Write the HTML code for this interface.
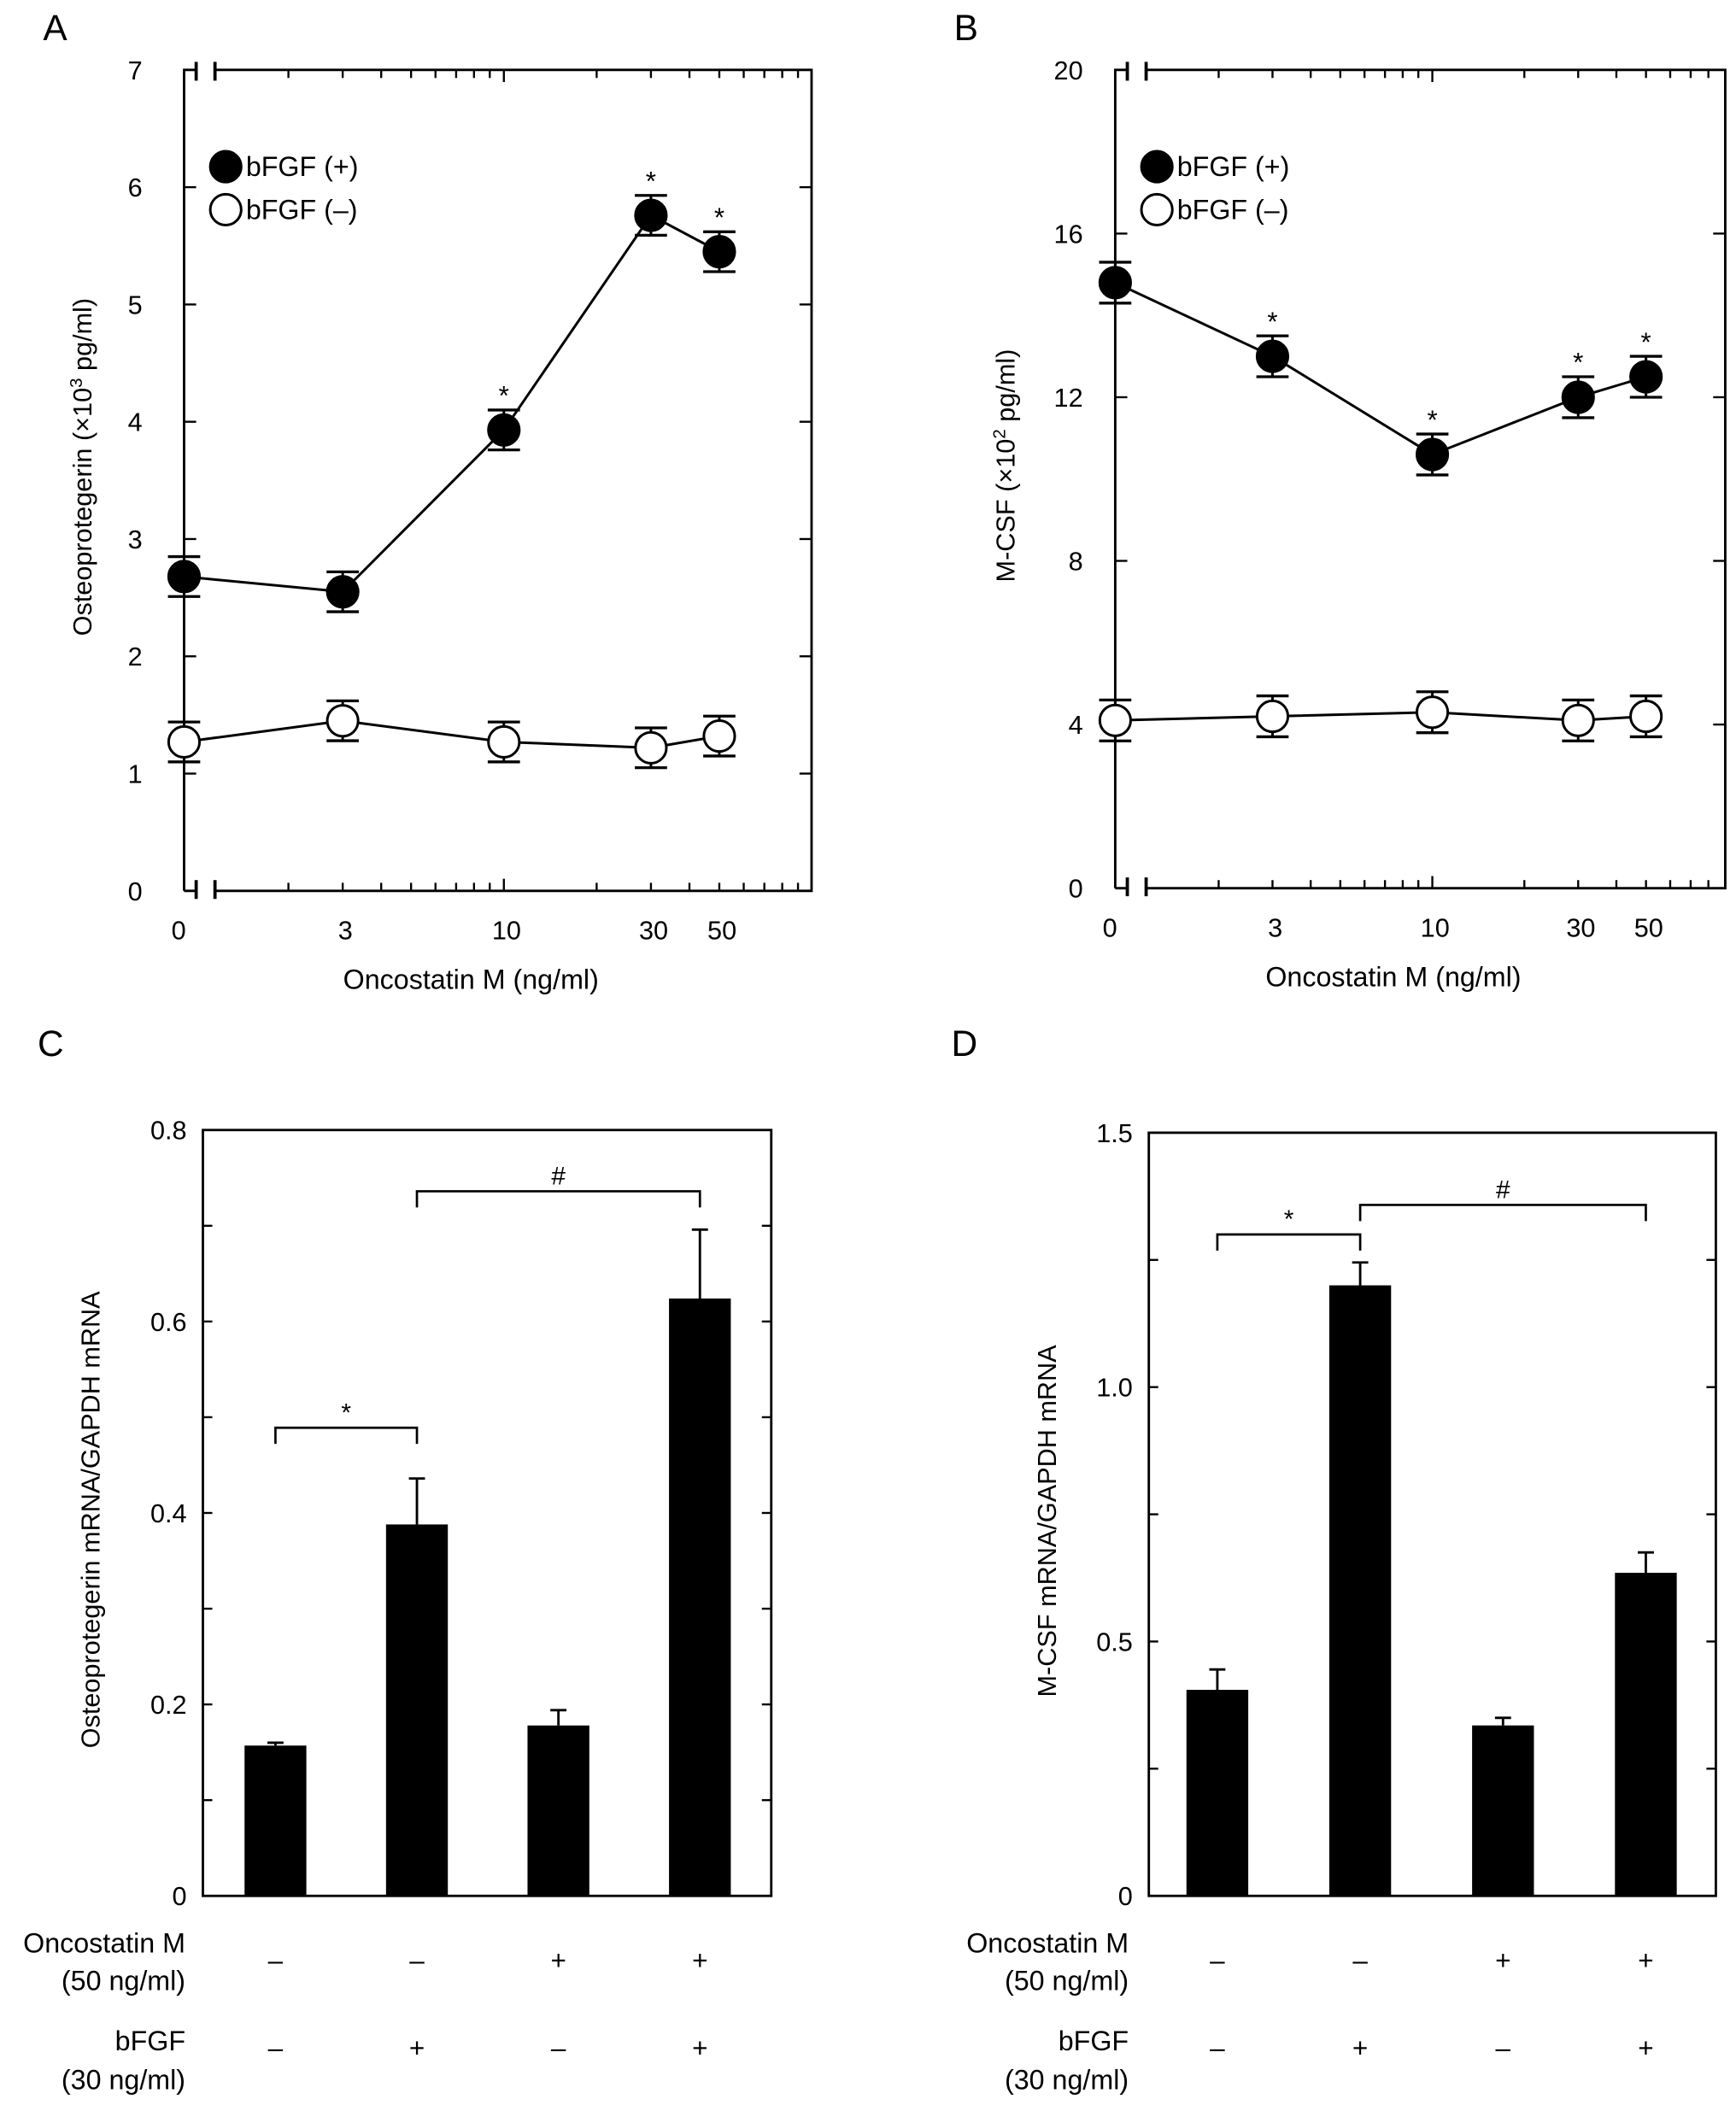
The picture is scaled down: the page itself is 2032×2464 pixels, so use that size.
<!DOCTYPE html>
<html><head><meta charset="utf-8"><style>
html,body{margin:0;padding:0;background:#fff}
svg{display:block}
text{font-family:"Liberation Sans",Arial,sans-serif;fill:#000}
</style></head><body>
<svg id="fig" xmlns="http://www.w3.org/2000/svg" width="2032" height="2464" viewBox="0 0 1292 1566.6">
<rect width="1292" height="1566.6" fill="#fff"/>
</svg>
<script>
// ---- Panel A data ----
const doseA = [0, 3, 10, 30, 50];
const opgPlus = [2.68, 2.55, 3.93, 5.76, 5.45];
const opgPlusErr = [0.17, 0.17, 0.17, 0.17, 0.17];
const opgMinus = [1.27, 1.45, 1.27, 1.22, 1.32];
const opgMinusErr = [0.17, 0.17, 0.17, 0.17, 0.17];
const starsA = [false, false, true, true, true];
const yTicksA = [0, 1, 2, 3, 4, 5, 6, 7];
// ---- Panel B data ----
const doseB = [0, 3, 10, 30, 50];
const mcsfPlus = [14.8, 13.0, 10.6, 12.0, 12.5];
const mcsfPlusErr = [0.5, 0.5, 0.5, 0.5, 0.5];
const mcsfMinus = [4.1, 4.2, 4.3, 4.1, 4.2];
const mcsfMinusErr = [0.5, 0.5, 0.5, 0.5, 0.5];
const starsB = [false, true, true, true, true];
const yTicksB = [0, 4, 8, 12, 16, 20];
// ---- Panel C data ----
const barsC = [0.157, 0.388, 0.178, 0.624];
const barsCErr = [0.003, 0.048, 0.016, 0.072];
const yTicksC = [0, 0.2, 0.4, 0.6, 0.8];
const yTickLabelsC = ["0", "0.2", "0.4", "0.6", "0.8"];
// ---- Panel D data ----
const barsD = [0.405, 1.2, 0.335, 0.635];
const barsDErr = [0.04, 0.045, 0.015, 0.04];
const yTicksD = [0, 0.5, 1.0, 1.5];
const yTickLabelsD = ["0", "0.5", "1.0", "1.5"];
const osmSigns = ["–", "–", "+", "+"];
const fgfSigns = ["–", "+", "–", "+"];

const svg = document.getElementById('fig');
const NS = 'http://www.w3.org/2000/svg';
function el(tag, attrs, parent) {
  const e = document.createElementNS(NS, tag);
  for (const k in attrs) e.setAttribute(k, attrs[k]);
  (parent || svg).appendChild(e);
  return e;
}
function txt(s, x, y, size, anchor, parent, extra) {
  const t = el('text', Object.assign({x: x, y: y, 'font-size': size, 'text-anchor': anchor || 'middle'}, extra || {}), parent);
  t.textContent = s;
  return t;
}
const LW = 1.8;
const TF = 19.5;

function linePanel(cfg) {
  const g = el('g', {});
  
  
  const {L, R, T, B, ymax, x10, dec} = cfg;
  const ys = v => B - (B - T) * v / ymax;
  const xs = d => d === 0 ? L : x10 + dec * (Math.log10(d) - 1);
  const bk1 = L + 9, bk2 = L + 23;
  el('path', {d: `M${L},${B} L${L},${T} L${bk1},${T} M${bk2},${T} L${R},${T} L${R},${B} L${bk2},${B} M${bk1},${B} L${L},${B}`, fill: 'none', stroke: '#000', 'stroke-width': LW}, g);
  [bk1, bk2].forEach(x => {
    el('line', {x1: x, y1: T - 6, x2: x, y2: T + 8, stroke: '#000', 'stroke-width': LW + 0.6}, g);
    el('line', {x1: x, y1: B - 8, x2: x, y2: B + 6, stroke: '#000', 'stroke-width': LW + 0.6}, g);
  });
  const tv = [];
  for (let i = 2; i <= 9; i++) tv.push(i);
  for (let i = 10; i <= 100; i += 10) tv.push(i);
  tv.forEach(v => {
    const x = xs(v);
    if (x < bk2 + 3 || x > R - 1) return;
    const len = (v === 10 || v === 100) ? 9 : 6;
    el('line', {x1: x, y1: B, x2: x, y2: B - len, stroke: '#000', 'stroke-width': 1.5}, g);
    el('line', {x1: x, y1: T, x2: x, y2: T + len, stroke: '#000', 'stroke-width': 1.5}, g);
  });
  cfg.yticks.forEach(v => {
    const y = ys(v);
    el('line', {x1: L, y1: y, x2: L + 9, y2: y, stroke: '#000', 'stroke-width': 1.5}, g);
    el('line', {x1: R, y1: y, x2: R - 9, y2: y, stroke: '#000', 'stroke-width': 1.5}, g);
    txt(String(v), cfg.ylabX, y + 7, TF, 'end', g);
  });
  cfg.doses.forEach(d => txt(String(d), d === 0 ? L - 4 : xs(d) + 2, B + 36, TF, 'middle', g));
  txt('Oncostatin M (ng/ml)', (L + R) / 2 - 20, B + 73, 20.5, 'middle', g);
  const yt = el('text', {x: 0, y: 0, 'font-size': 19.5, 'text-anchor': 'middle', transform: `translate(${cfg.ytX},${(T + B) / 2 - 10}) rotate(-90)`}, g);
  yt.innerHTML = cfg.ytitle;
  function series(vals, errs, filled, nm) {
    const sg = el('g', {}, g);
    
    
    const pts = vals.map((v, i) => [xs(cfg.doses[i]), ys(v)]);
    el('polyline', {points: pts.map(p => p.join(',')).join(' '), fill: 'none', stroke: '#000', 'stroke-width': 1.9}, sg);
    vals.forEach((v, i) => {
      const x = pts[i][0], y1 = ys(v + errs[i]), y2 = ys(v - errs[i]);
      el('line', {x1: x, y1: y1, x2: x, y2: y2, stroke: '#000', 'stroke-width': 1.9}, sg);
      el('line', {x1: x - 12, y1: y1, x2: x + 12, y2: y1, stroke: '#000', 'stroke-width': 2.1}, sg);
      el('line', {x1: x - 12, y1: y2, x2: x + 12, y2: y2, stroke: '#000', 'stroke-width': 2.1}, sg);
      const c = el('circle', {cx: x, cy: pts[i][1], r: 11.5, fill: filled ? '#000' : '#fff', stroke: '#000', 'stroke-width': 1.9}, sg);
      
      
    });
  }
  series(cfg.minus, cfg.minusErr, false, 'series-bfgf-minus');
  series(cfg.plus, cfg.plusErr, true, 'series-bfgf-plus');
  cfg.stars.forEach((s, i) => {
    if (s) txt('*', xs(cfg.doses[i]), ys(cfg.plus[i] + cfg.plusErr[i]) - 4, 20, 'middle', g, {fill: '#444'});
  });
  const lg = el('g', {}, g);
  
  
  el('circle', {cx: L + 31, cy: T + 72, r: 11.5, fill: '#000', stroke: '#000', 'stroke-width': 1.9}, lg);
  txt('bFGF (+)', L + 46, T + 79, 20.5, 'start', lg);
  el('circle', {cx: L + 31, cy: T + 104, r: 11.5, fill: '#fff', stroke: '#000', 'stroke-width': 1.9}, lg);
  txt('bFGF (–)', L + 46, T + 111, 20.5, 'start', lg);
  txt(cfg.letter, cfg.letterX, 30, 27, 'start', g);
}

linePanel({name: 'panel-a', letter: 'A', letterX: 32, L: 137, R: 604, T: 52, B: 663, ymax: 7, x10: 375, dec: 229.4,
  yticks: yTicksA, doses: doseA, plus: opgPlus, plusErr: opgPlusErr, minus: opgMinus, minusErr: opgMinusErr, stars: starsA,
  ylabX: 106, ytX: 68, ytitle: 'Osteoprotegerin (×10<tspan dy="-7" font-size="13">3</tspan><tspan dy="7"> pg/ml)</tspan>'});
linePanel({name: 'panel-b', letter: 'B', letterX: 710, L: 830, R: 1284, T: 52, B: 661, ymax: 20, x10: 1066, dec: 227.5,
  yticks: yTicksB, doses: doseB, plus: mcsfPlus, plusErr: mcsfPlusErr, minus: mcsfMinus, minusErr: mcsfMinusErr, stars: starsB,
  ylabX: 806, ytX: 755, ytitle: 'M-CSF (×10<tspan dy="-7" font-size="13">2</tspan><tspan dy="7"> pg/ml)</tspan>'});

function barPanel(cfg) {
  const g = el('g', {});
  
  
  const {L, R, T, B, ymax} = cfg;
  const ys = v => B - (B - T) * v / ymax;
  el('rect', {x: L, y: T, width: R - L, height: B - T, fill: 'none', stroke: '#000', 'stroke-width': LW}, g);
  for (let v = cfg.minor; v < ymax - 1e-9; v += cfg.minor) {
    const y = ys(v);
    el('line', {x1: L, y1: y, x2: L + 7, y2: y, stroke: '#000', 'stroke-width': 1.5}, g);
    el('line', {x1: R, y1: y, x2: R - 7, y2: y, stroke: '#000', 'stroke-width': 1.5}, g);
  }
  cfg.yticks.forEach((v, i) => txt(cfg.ylabels[i], L - 12, ys(v) + 7, TF, 'end', g));
  const yt = el('text', {x: 0, y: 0, 'font-size': 19.5, 'text-anchor': 'middle', transform: `translate(${cfg.ytX},${(T + B) / 2 + 5}) rotate(-90)`}, g);
  yt.textContent = cfg.ytitle;
  const xc = i => cfg.x1 + i * cfg.dx;
  cfg.vals.forEach((v, i) => {
    const x = xc(i), top = ys(v), et = ys(v + cfg.errs[i]);
    el('line', {x1: x, y1: et, x2: x, y2: top, stroke: '#000', 'stroke-width': 1.8}, g);
    el('line', {x1: x - 6, y1: et, x2: x + 6, y2: et, stroke: '#000', 'stroke-width': 1.8}, g);
    const r = el('rect', {x: x - 23, y: top, width: 46, height: B - top, fill: '#000'}, g);
    
    
    txt(osmSigns[i], x, B + 55, 20, 'middle', g);
    txt(fgfSigns[i], x, B + 120, 20, 'middle', g);
  });
  cfg.brackets.forEach(bk => {
    const xa = xc(bk.a), xb = xc(bk.b), y = ys(bk.v);
    el('path', {d: `M${xa},${y + 12} L${xa},${y} L${xb},${y} L${xb},${y + 12}`, fill: 'none', stroke: '#000', 'stroke-width': 1.7}, g);
    txt(bk.s, (xa + xb) / 2, y - 5, bk.s === '*' ? 19 : 19, 'middle', g, {fill: '#333'});
  });
  const lx = cfg.rowX;
  txt('Oncostatin M', lx, B + 42, 20.5, 'end', g);
  txt('(50 ng/ml)', lx, B + 70, 20.5, 'end', g);
  txt('bFGF', lx, B + 115, 20.5, 'end', g);
  txt('(30 ng/ml)', lx, B + 144, 20.5, 'end', g);
  txt(cfg.letter, cfg.letterX, 786, 27, 'start', g);
}

barPanel({name: 'panel-c', letter: 'C', letterX: 28, L: 151, R: 574, T: 841, B: 1411, ymax: 0.8, minor: 0.1,
  yticks: yTicksC, ylabels: yTickLabelsC, vals: barsC, errs: barsCErr, x1: 205, dx: 105.3, rowX: 138, ytX: 74,
  ytitle: 'Osteoprotegerin mRNA/GAPDH mRNA',
  brackets: [{a: 0, b: 1, v: 0.489, s: '*'}, {a: 1, b: 3, v: 0.736, s: '#'}]});
barPanel({name: 'panel-d', letter: 'D', letterX: 708, L: 855, R: 1277, T: 843, B: 1411, ymax: 1.5, minor: 0.25,
  yticks: yTicksD, ylabels: yTickLabelsD, vals: barsD, errs: barsDErr, x1: 906, dx: 106.3, rowX: 840, ytX: 786,
  ytitle: 'M-CSF mRNA/GAPDH mRNA',
  brackets: [{a: 0, b: 1, v: 1.30, s: '*'}, {a: 1, b: 3, v: 1.358, s: '#'}]});
</script>
</body></html>
